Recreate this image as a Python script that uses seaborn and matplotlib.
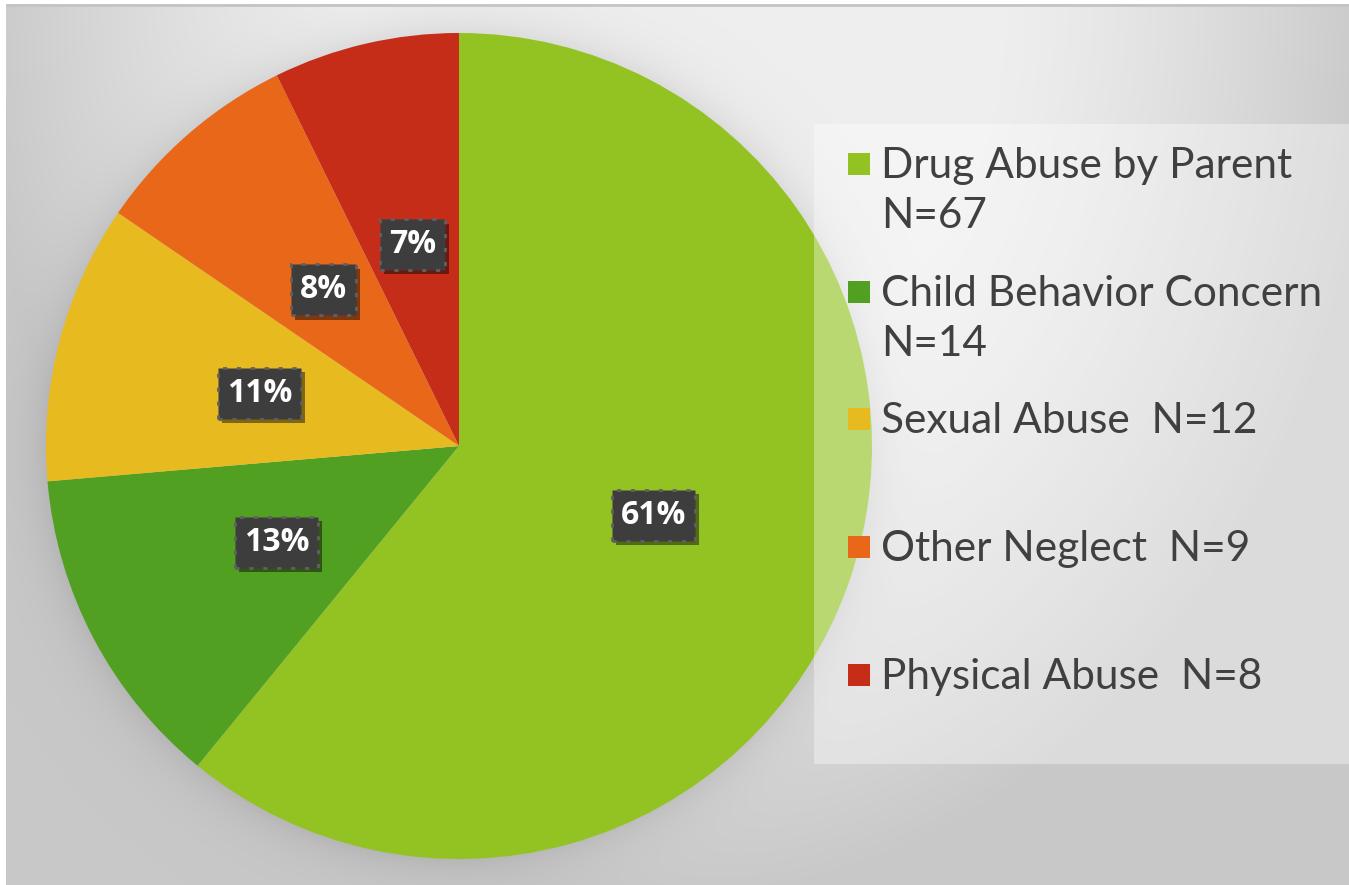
import numpy as np
import matplotlib
matplotlib.use("Agg")
import matplotlib.pyplot as plt
import matplotlib.patheffects as pe
from matplotlib.patches import Rectangle
import seaborn as sns

# Case reasons and their counts
categories = ["Drug Abuse by Parent", "Child Behavior Concern", "Sexual Abuse",
              "Other Neglect", "Physical Abuse"]
counts = [67, 14, 12, 9, 8]
legend_labels = ["Drug Abuse by Parent\nN=67", "Child Behavior Concern\nN=14",
                 "Sexual Abuse  N=12", "Other Neglect  N=9", "Physical Abuse  N=8"]
slice_colors = ["#92C323", "#52A022", "#E7BA1F", "#E86719", "#C52D19"]

sns.set_theme(style="white")
plt.rcParams["font.family"] = ["Lato", "DejaVu Sans"]

W, H = 1349, 885
fig = plt.figure(figsize=(W / 100, H / 100), dpi=100)
fig.patch.set_facecolor("white")

# --- soft grey backdrop with a halo under the pie ---
x0, y0 = 6, 4
bg = fig.add_axes([x0 / W, 0, 1 - x0 / W, 1 - y0 / H])
bg.set_axis_off()
xs = np.arange(x0, W) + 0.5
ys = np.arange(y0, H) + 0.5
X, Y = np.meshgrid(xs, ys)
d = np.sqrt(((X - 680) / 700) ** 2 + ((Y - 0) / 900) ** 2)
v = 0.935 - 0.15 * np.clip((d - 0.45) / 0.55, 0, 1) ** 1.3
cx, cy, R = 459, 446, 413
r = np.sqrt((X - cx) ** 2 + (Y - cy) ** 2)
v = v - 0.07 * np.exp(-np.clip(r - R, 0, None) / 22) * (r > R - 2)
img = np.dstack([v, v, v])
bg.imshow(img, extent=(0, 1, 0, 1), aspect="auto", interpolation="bilinear")
bg.set_xlim(0, 1)
bg.set_ylim(0, 1)
bg.plot([0, 1], [1 - 1 / (H - y0), 1 - 1 / (H - y0)], color="#c4c4c4", lw=2,
        transform=bg.transAxes, solid_capstyle="butt")

# --- pie ---
ax = fig.add_axes([(cx - R) / W, (H - cy - R) / H, 2 * R / W, 2 * R / H])
ax.set_axis_off()
ax.patch.set_alpha(0)
wedges, _, autotexts = ax.pie(
    counts, colors=slice_colors, startangle=90, counterclock=False,
    autopct="%1.0f%%", pctdistance=0.5, radius=1.0,
    wedgeprops=dict(linewidth=0),
    textprops=dict(color="white", fontsize=23, fontweight="bold",
                   family=["Open Sans", "DejaVu Sans"]))
ax.set_xlim(-1, 1)
ax.set_ylim(-1, 1)
for t in autotexts:
    t.set_bbox(dict(boxstyle="square,pad=0.28", facecolor="#3d3d3d",
                    edgecolor="#606060", linewidth=2.0, linestyle=(0, (1.5, 3.5))))
    t.get_bbox_patch().set_path_effects(
        [pe.SimplePatchShadow(offset=(3, -3), shadow_rgbFace="black", alpha=0.45),
         pe.Normal()])

# --- legend panel ---
panel = Rectangle((814 / W, 1 - 764 / H), (W - 814) / W, (764 - 124) / H,
                  transform=fig.transFigure, facecolor="white", alpha=0.36,
                  edgecolor="none", zorder=5)
fig.add_artist(panel)

baselines = [178, 306, 433, 561, 689]
line_gap = 50
for lab, col, yb in zip(legend_labels, slice_colors, baselines):
    sq = Rectangle((848 / W, 1 - (yb - 3) / H), 22 / W, 22 / H,
                   transform=fig.transFigure, facecolor=col, edgecolor="none",
                   zorder=6)
    fig.add_artist(sq)
    for i, line in enumerate(lab.split("\n")):
        fig.text(881 / W, 1 - (yb + i * line_gap) / H, line, fontsize=30.5,
                 color="#404040", va="baseline", ha="left", zorder=7)

fig.savefig("out.png", dpi=100)
